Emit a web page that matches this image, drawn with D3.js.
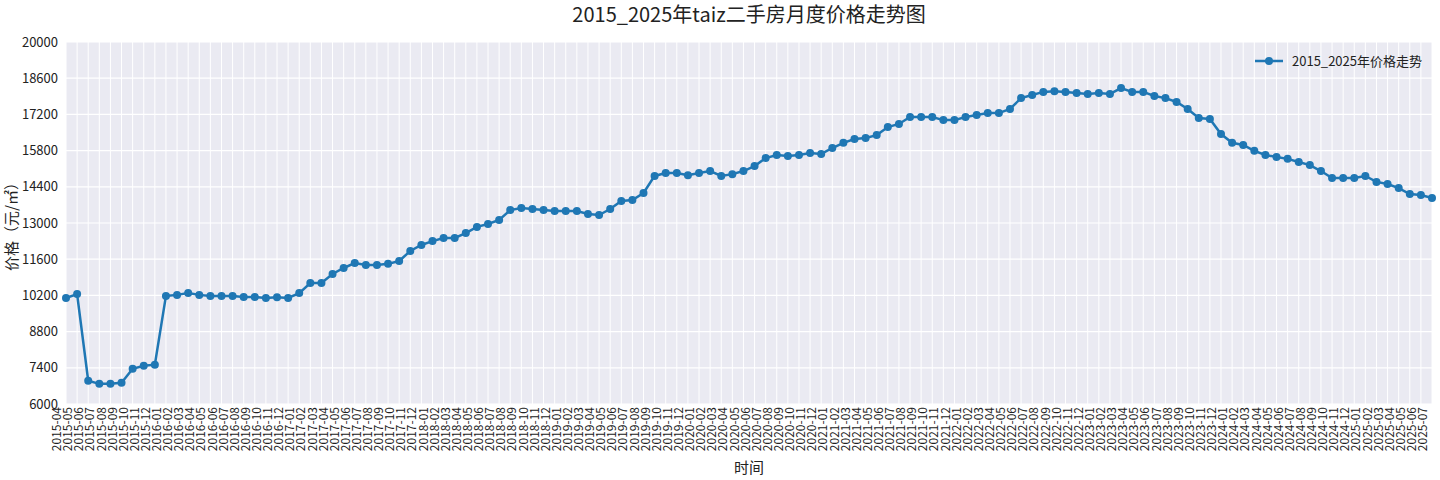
<!DOCTYPE html>
<html><head><meta charset="utf-8">
<script src="https://cdn.jsdelivr.net/npm/d3@7"></script>
<style>body{margin:0;background:#fff;font-family:"Noto Sans CJK SC","DejaVu Sans",sans-serif;}</style>
</head><body><svg id="chart" width="1440" height="480"></svg>
<script>
const title = "2015_2025年taiz二手房月度价格走势图";
const seriesName = "2015_2025年价格走势";
const prices = [10100,10250,6900,6780,6780,6820,7360,7480,7520,
  10180,10220,10290,10220,10180,10180,10180,10140,10140,10100,10130,10100,
  10290,10680,10680,11030,11260,11450,11380,11380,11420,11530,11920,12150,
  12300,12420,12420,12610,12850,12960,13120,13500,13580,13540,13500,13460,
  13460,13460,13350,13310,13540,13850,13890,14160,14820,14930,14930,14850,
  14930,15010,14820,14890,15010,15200,15510,15630,15590,15630,15710,15670,
  15900,16100,16250,16290,16400,16710,16830,17100,17100,17100,16980,16980,
  17100,17180,17250,17250,17410,17830,17950,18070,18100,18070,18030,17990,
  18030,17990,18220,18070,18070,17910,17830,17680,17410,17060,17020,16440,
  16100,16020,15790,15630,15550,15480,15360,15240,15010,14740,14740,14740,
  14820,14590,14510,14350,14120,14080,13970];
const months = prices.map((_, i) => {
  const m = 3 + i, y = 2015 + Math.floor(m / 12), mm = m % 12 + 1;
  return y + "-" + String(mm).padStart(2, "0");
});
const yTicks = d3.range(6000, 20001, 1400);

const margin = {top: 42, right: 8, bottom: 76, left: 66};
const W = 1440, H = 480;
const w = W - margin.left - margin.right, h = H - margin.top - margin.bottom;
const svg = d3.select("#chart");
const g = svg.append("g").attr("transform", `translate(${margin.left},${margin.top})`);

const x = d3.scalePoint().domain(months).range([0, w]);
const y = d3.scaleLinear().domain([6000, 20000]).range([h, 0]);

g.append("rect").attr("width", w).attr("height", h).attr("fill", "#EAEAF2");
g.selectAll(".vg").data(months).join("line")
  .attr("x1", d => x(d)).attr("x2", d => x(d)).attr("y1", 0).attr("y2", h)
  .attr("stroke", "#fff").attr("stroke-width", 1);
g.selectAll(".hg").data(yTicks).join("line")
  .attr("x1", 0).attr("x2", w).attr("y1", d => y(d)).attr("y2", d => y(d))
  .attr("stroke", "#fff").attr("stroke-width", 1.2);

const yAxis = g.append("g").call(d3.axisLeft(y).tickValues(yTicks).tickFormat(d3.format("d")).tickSize(0).tickPadding(8));
yAxis.select(".domain").remove();
yAxis.selectAll("text").attr("font-size", 13).attr("fill", "#222").attr("font-family", "Noto Sans CJK SC");

const xAxis = g.append("g").attr("transform", `translate(0,${h})`)
  .call(d3.axisBottom(x).tickSize(0).tickPadding(4));
xAxis.select(".domain").remove();
xAxis.selectAll("text").attr("font-size", 12).attr("fill", "#222").attr("font-family", "Noto Sans CJK SC")
  .attr("transform", "rotate(-90)").attr("text-anchor", "end")
  .attr("dx", "-3").attr("dy", "-0.45em").attr("x", 0).attr("y", 0);

g.append("path").datum(prices)
  .attr("d", d3.line().x((d, i) => x(months[i])).y(d => y(d)))
  .attr("fill", "none").attr("stroke", "#1F77B4").attr("stroke-width", 2.5);
g.selectAll(".pt").data(prices).join("circle")
  .attr("cx", (d, i) => x(months[i])).attr("cy", d => y(d)).attr("r", 4).attr("fill", "#1F77B4");

svg.append("text").attr("x", margin.left + w / 2).attr("y", 22).attr("text-anchor", "middle")
  .attr("font-size", 20).attr("fill", "#222").text(title);
svg.append("text").attr("x", margin.left + w / 2).attr("y", 473).attr("text-anchor", "middle")
  .attr("font-size", 15).attr("fill", "#222").text("时间");
svg.append("text").attr("transform", `translate(17,${margin.top + h / 2}) rotate(-90)`)
  .attr("text-anchor", "middle").attr("font-size", 15).attr("fill", "#222").text("价格（元/㎡）");

const lg = svg.append("g").attr("transform", "translate(1255,61)");
lg.append("line").attr("x1", 0).attr("x2", 28).attr("stroke", "#1F77B4").attr("stroke-width", 2.5);
lg.append("circle").attr("cx", 14).attr("r", 4).attr("fill", "#1F77B4");
lg.append("text").attr("x", 37).attr("dy", "0.35em").attr("font-size", 13).attr("fill", "#222").text(seriesName);
</script></body></html>
